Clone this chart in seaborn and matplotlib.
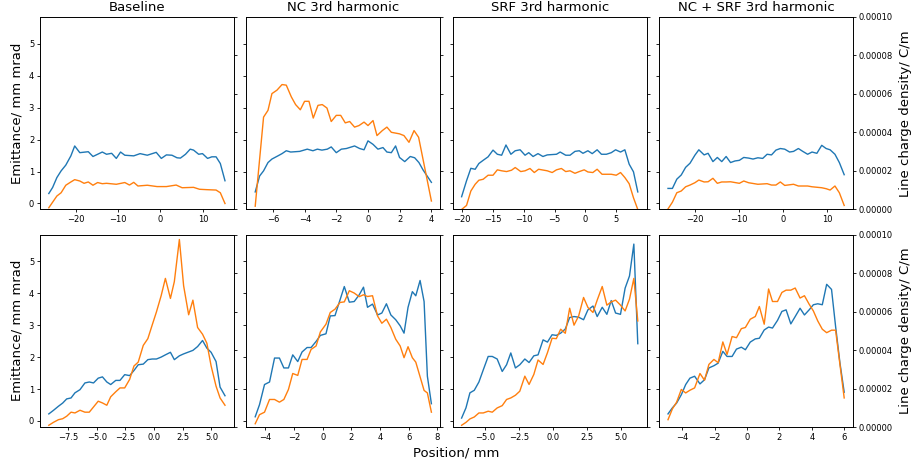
import matplotlib
matplotlib.use("Agg")
import matplotlib.pyplot as plt
from matplotlib.ticker import MultipleLocator, FormatStrFormatter
import seaborn as sns

# panel titles (top row); bottom row is the same four set-ups
titles = ["Baseline", "NC 3rd harmonic", "SRF 3rd harmonic", "NC + SRF 3rd harmonic"]

# ---- top row: emittance (mm mrad) and line charge density (1e-5 C/m) ----
base_top_x = [-26.3, -25.4, -24.4, -23.4, -22.3, -21.1, -20.2, -19.0, -17.0, -15.9, -13.7, -12.7, -11.5, -10.4,
              -9.4, -8.4, -6.3, -4.8, -3.1, -1.0, 0.2, 1.4, 2.7, 3.9, 4.7, 5.9, 7.0, 7.8, 9.0, 9.9, 11.1, 12.1,
              13.1, 14.1, 15.2]
base_top_emit = [0.31, 0.5, 0.81, 1.02, 1.2, 1.49, 1.8, 1.59, 1.62, 1.47, 1.61, 1.54, 1.57, 1.41, 1.61, 1.51,
                 1.49, 1.56, 1.51, 1.6, 1.41, 1.52, 1.51, 1.43, 1.42, 1.54, 1.7, 1.67, 1.54, 1.56, 1.41, 1.46,
                 1.46, 1.25, 0.71]
base_top_qx = [-26.3, -25.4, -24.4, -23.4, -22.3, -21.1, -20.2, -19.0, -18.0, -17.0, -15.9, -14.8, -13.7, -12.7,
               -10.4, -8.4, -7.3, -6.3, -5.3, -3.1, -0.8, 1.4, 3.7, 5.1, 7.8, 9.2, 10.9, 13.1, 14.1, 15.2]
base_top_lcd = [0.09, 0.38, 0.7, 0.87, 1.26, 1.43, 1.55, 1.48, 1.36, 1.43, 1.26, 1.4, 1.34, 1.36, 1.31, 1.4,
                1.27, 1.41, 1.22, 1.26, 1.19, 1.19, 1.27, 1.13, 1.15, 1.05, 1.03, 1.01, 0.87, 0.31]

nc_top_x = [-7.15, -6.87, -6.62, -6.34, -6.09, -5.71, -5.45, -5.18, -4.9, -4.33, -3.85, -3.49, -3.21, -2.92,
            -2.58, -2.33, -2.01, -1.69, -1.37, -0.85, -0.53, -0.25, 0.0, 0.32, 0.63, 0.95, 1.2, 1.48, 1.75,
            2.0, 2.33, 2.68, 2.96, 3.23, 3.49, 4.02]
nc_top_emit = [0.36, 0.86, 1.02, 1.28, 1.39, 1.49, 1.56, 1.65, 1.61, 1.63, 1.7, 1.65, 1.7, 1.67, 1.7, 1.77,
               1.59, 1.7, 1.72, 1.8, 1.72, 1.68, 1.96, 1.85, 1.7, 1.75, 1.61, 1.59, 1.8, 1.44, 1.31, 1.47,
               1.43, 1.28, 1.05, 0.66]
nc_top_qx = [-7.15, -6.62, -6.34, -6.09, -5.77, -5.45, -5.18, -4.86, -4.59, -4.29, -4.02, -3.74, -3.47, -3.17,
             -2.9, -2.6, -2.33, -2.01, -1.73, -1.44, -1.16, -0.85, -0.57, -0.25, 0.0, 0.32, 0.57, 0.91, 1.2,
             1.48, 2.0, 2.28, 2.6, 2.92, 3.21, 4.02]
nc_top_lcd = [0.17, 4.8, 5.15, 6.02, 6.2, 6.49, 6.46, 5.85, 5.45, 5.18, 5.62, 5.62, 4.75, 5.41, 5.45, 5.27,
              4.57, 4.89, 4.89, 4.5, 4.57, 4.28, 4.36, 4.54, 4.36, 4.62, 3.84, 4.1, 4.28, 4.01, 3.93, 3.84,
              3.49, 4.1, 3.75, 0.44]

srf_top_x = [-20.1, -19.3, -18.6, -17.9, -17.3, -16.6, -15.8, -15.0, -14.3, -13.6, -12.9, -12.1, -11.4, -10.6,
             -9.8, -9.2, -8.5, -7.7, -6.9, -6.2, -4.7, -4.1, -3.2, -2.5, -1.7, -1.0, -0.4, 0.4, 1.1, 1.9, 2.6,
             3.4, 4.2, 4.9, 5.7, 6.4, 7.1, 7.8, 8.5]
srf_top_emit = [0.21, 0.71, 1.1, 1.07, 1.25, 1.35, 1.46, 1.67, 1.54, 1.51, 1.83, 1.54, 1.65, 1.68, 1.51, 1.59,
                1.47, 1.56, 1.47, 1.52, 1.54, 1.61, 1.51, 1.51, 1.63, 1.65, 1.57, 1.65, 1.56, 1.68, 1.54,
                1.54, 1.59, 1.68, 1.61, 1.68, 1.23, 0.99, 0.36]
srf_top_qx = [-20.1, -19.3, -18.6, -17.9, -17.3, -16.6, -15.8, -15.0, -14.3, -13.6, -12.8, -12.0, -11.4, -10.5,
              -9.8, -9.0, -8.3, -7.6, -6.2, -5.4, -4.7, -3.9, -3.2, -2.5, -1.7, -1.0, -0.2, 0.4, 1.2, 1.9,
              2.7, 4.2, 5.0, 5.7, 6.4, 7.1, 7.8, 8.5]
srf_top_lcd = [0.0, 0.21, 0.96, 1.31, 1.52, 1.57, 1.78, 1.78, 2.06, 2.01, 1.97, 2.04, 2.18, 1.97, 2.01, 2.13,
               1.92, 2.09, 2.01, 1.92, 2.06, 2.13, 1.97, 2.01, 1.88, 1.97, 2.06, 1.95, 1.92, 2.09, 1.83, 1.83,
               1.78, 1.92, 1.66, 1.34, 0.61, 0.0]

both_top_x = [-26.1, -25.1, -24.1, -23.1, -22.1, -21.1, -20.0, -19.1, -17.9, -17.0, -15.9, -14.9, -13.9, -12.9,
              -11.9, -10.9, -9.9, -8.9, -7.8, -6.8, -5.7, -4.6, -3.6, -2.6, -1.6, -0.6, 0.4, 1.5, 2.4, 3.5,
              4.5, 5.6, 6.6, 7.7, 8.8, 9.8, 10.7, 11.8, 12.8, 13.9]
both_top_emit = [0.47, 0.47, 0.76, 0.89, 1.13, 1.26, 1.51, 1.68, 1.52, 1.57, 1.31, 1.44, 1.31, 1.47, 1.28, 1.33,
                 1.35, 1.44, 1.42, 1.39, 1.43, 1.41, 1.54, 1.52, 1.67, 1.72, 1.7, 1.61, 1.63, 1.72, 1.63, 1.54,
                 1.61, 1.57, 1.82, 1.72, 1.68, 1.54, 1.28, 0.9]
both_top_qx = [-26.1, -25.1, -24.1, -23.1, -22.1, -21.1, -20.0, -19.1, -17.9, -17.0, -15.9, -14.9, -13.9, -12.9,
               -11.9, -9.9, -8.9, -7.8, -5.7, -3.6, -2.6, -1.6, -0.6, 0.4, 2.4, 3.5, 5.6, 6.6, 8.8, 9.8, 10.7,
               11.8, 12.8, 13.9]
both_top_lcd = [0.03, 0.38, 0.87, 0.96, 1.18, 1.27, 1.39, 1.53, 1.43, 1.44, 1.62, 1.36, 1.43, 1.43, 1.44, 1.36,
                1.48, 1.39, 1.31, 1.34, 1.27, 1.27, 1.43, 1.25, 1.31, 1.22, 1.22, 1.18, 1.13, 1.08, 1.01, 1.22,
                0.87, 0.21]

# ---- bottom row ----
base_bot_x = [-9.19, -8.79, -8.35, -7.98, -7.63, -7.25, -6.91, -6.47, -6.04, -5.66, -5.29, -4.88, -4.51, -4.13,
              -3.79, -3.35, -2.98, -2.57, -2.14, -1.76, -1.39, -0.95, -0.55, -0.17, 0.2, 0.61, 0.98, 1.42, 1.76,
              2.2, 2.57, 3.01, 3.38, 3.79, 4.22, 4.6, 4.97, 5.4, 5.75, 6.18]
base_bot_emit = [0.22, 0.33, 0.46, 0.56, 0.69, 0.72, 0.88, 0.98, 1.19, 1.22, 1.19, 1.34, 1.38, 1.22, 1.14, 1.27,
                 1.27, 1.45, 1.42, 1.58, 1.76, 1.78, 1.92, 1.94, 1.94, 2.0, 2.07, 2.15, 1.92, 2.04, 2.1, 2.16,
                 2.21, 2.33, 2.52, 2.28, 2.15, 1.86, 1.06, 0.79]
base_bot_lcd = [0.09, 0.24, 0.38, 0.43, 0.56, 0.77, 0.73, 0.87, 0.77, 0.77, 1.04, 1.34, 1.25, 1.13, 1.57, 1.83,
                2.03, 2.03, 2.47, 3.17, 3.37, 4.24, 4.59, 5.3, 5.98, 6.82, 7.72, 6.68, 7.55, 9.74, 7.34, 5.83,
                6.59, 5.17, 4.82, 4.35, 3.17, 2.12, 1.51, 1.13]

nc_bot_x = [-4.71, -4.41, -4.06, -3.71, -3.36, -3.02, -2.71, -2.39, -2.09, -1.74, -1.44, -1.09, -0.81, -0.46,
            -0.16, 0.23, 0.53, 0.86, 1.21, 1.51, 1.86, 2.2, 2.55, 2.85, 3.13, 3.48, 3.83, 4.13, 4.45, 4.76, 5.1,
            5.41, 5.68, 5.96, 6.26, 6.5, 6.8, 7.08, 7.31, 7.59]
nc_bot_emit = [0.13, 0.51, 1.14, 1.22, 1.97, 1.97, 1.66, 1.66, 2.07, 1.86, 2.16, 2.3, 2.3, 2.49, 2.68, 2.73,
               3.29, 3.3, 3.79, 4.21, 3.72, 3.74, 3.95, 4.19, 3.56, 3.66, 3.32, 3.38, 3.67, 3.32, 3.17, 2.98,
               2.75, 3.56, 4.05, 3.92, 4.4, 3.74, 1.4, 0.54]
nc_bot_lcd = [0.17, 0.64, 0.77, 1.43, 1.43, 1.29, 1.43, 1.95, 2.78, 2.68, 3.51, 3.51, 4.03, 4.21, 4.94, 5.34,
              5.95, 6.12, 6.47, 6.5, 7.08, 6.96, 6.77, 6.87, 6.78, 6.82, 5.77, 5.39, 5.6, 5.17, 4.56, 4.21,
              3.6, 4.17, 3.6, 3.37, 2.61, 1.9, 1.77, 0.77]

srf_bot_x = [-6.71, -6.39, -6.1, -5.78, -5.44, -5.12, -4.76, -4.46, -4.1, -3.73, -3.41, -3.1, -2.76, -2.44,
             -2.07, -1.76, -1.41, -1.1, -0.73, -0.41, -0.07, 0.24, 0.56, 0.9, 1.22, 1.54, 1.88, 2.24, 2.56,
             2.93, 3.24, 3.61, 3.95, 4.27, 4.59, 4.95, 5.29, 5.61, 5.93, 6.22]
srf_bot_emit = [0.09, 0.41, 0.88, 0.96, 1.22, 1.6, 2.02, 2.02, 1.94, 1.55, 1.76, 2.13, 1.66, 1.76, 1.94, 1.83,
                2.04, 2.07, 2.54, 2.47, 2.7, 2.68, 2.75, 2.88, 3.24, 3.27, 3.25, 3.17, 3.48, 3.6, 3.27, 3.56,
                3.34, 3.77, 3.38, 3.34, 4.16, 4.54, 5.54, 2.42]
srf_bot_lcd = [0.09, 0.24, 0.42, 0.52, 0.73, 0.73, 0.82, 0.77, 0.99, 1.11, 1.43, 1.51, 1.65, 1.86, 2.64, 2.21,
               2.73, 3.48, 3.25, 3.86, 4.61, 4.59, 5.08, 4.87, 6.17, 5.29, 5.77, 6.73, 6.21, 5.95, 6.59, 7.3,
               6.33, 6.5, 6.59, 6.33, 6.03, 6.64, 7.72, 5.51]

both_bot_x = [-4.87, -4.6, -4.34, -4.05, -3.78, -3.52, -3.23, -2.9, -2.62, -2.35, -2.04, -1.78, -1.49, -1.23,
              -0.92, -0.65, -0.35, -0.1, 0.2, 0.51, 0.76, 1.06, 1.33, 1.57, 1.88, 2.15, 2.41, 2.7, 2.97, 3.27,
              3.54, 3.83, 4.09, 4.36, 4.64, 4.91, 5.21, 5.46, 5.73, 5.99]
both_bot_emit = [0.22, 0.41, 0.56, 0.82, 1.14, 1.34, 1.4, 1.16, 1.29, 1.66, 1.73, 1.81, 2.18, 2.02, 2.02, 2.25,
                 2.31, 2.23, 2.47, 2.57, 2.59, 2.85, 2.94, 2.91, 3.15, 3.43, 3.48, 3.04, 3.27, 3.53, 3.32, 3.48,
                 3.64, 3.67, 3.64, 4.28, 4.12, 2.96, 1.81, 0.9]
both_bot_qx = [-4.87, -4.6, -4.34, -4.05, -3.78, -3.52, -3.23, -2.9, -2.62, -2.35, -2.04, -1.78, -1.49, -1.23,
               -0.92, -0.65, -0.35, -0.1, 0.2, 0.51, 0.76, 1.06, 1.33, 1.57, 1.88, 2.15, 2.41, 2.7, 2.97, 3.27,
               3.54, 3.83, 4.09, 4.36, 4.64, 4.91, 5.21, 5.46, 5.99]
both_bot_lcd = [0.38, 0.94, 1.29, 1.95, 1.77, 1.91, 2.03, 2.78, 2.43, 3.25, 3.51, 3.34, 4.42, 3.77, 4.7, 4.64,
                5.11, 5.17, 5.6, 5.74, 6.26, 5.34, 7.17, 6.52, 6.52, 6.99, 7.11, 7.11, 7.22, 6.7, 6.82, 6.38,
                6.03, 5.51, 5.08, 4.9, 5.03, 5.03, 1.51]

# (emittance x, emittance, charge x, charge, tick step) for each panel
panels = [
    [(base_top_x, base_top_emit, base_top_qx, base_top_lcd, 10),
     (nc_top_x, nc_top_emit, nc_top_qx, nc_top_lcd, 2),
     (srf_top_x, srf_top_emit, srf_top_qx, srf_top_lcd, 5),
     (both_top_x, both_top_emit, both_top_qx, both_top_lcd, 10)],
    [(base_bot_x, base_bot_emit, base_bot_x, base_bot_lcd, 2.5),
     (nc_bot_x, nc_bot_emit, nc_bot_x, nc_bot_lcd, 2),
     (srf_bot_x, srf_bot_emit, srf_bot_x, srf_bot_lcd, 2.5),
     (both_bot_x, both_bot_emit, both_bot_qx, both_bot_lcd, 2)],
]

plt.rcParams.update({
    'font.family': ['DejaVu Sans'],
    'axes.linewidth': 0.6,
    'xtick.labelsize': 6, 'ytick.labelsize': 6,
    'xtick.major.size': 2.2, 'ytick.major.size': 2.2,
    'xtick.major.width': 0.6, 'ytick.major.width': 0.6,
    'xtick.major.pad': 2, 'ytick.major.pad': 2,
})

fig, axes = plt.subplots(2, 4, figsize=(9.13, 4.65), dpi=100, sharey=True)
fig.subplots_adjust(left=40 / 913, right=853 / 913, top=1 - 17 / 465, bottom=1 - 427 / 465,
                    wspace=0.065, hspace=0.13)

for r in range(2):
    for c in range(4):
        ax = axes[r, c]
        ex, em, qx, lcd, step = panels[r][c]
        sns.lineplot(x=ex, y=em, ax=ax, color='#1f77b4', linewidth=1.0, sort=False, estimator=None)
        tw = ax.twinx()
        sns.lineplot(x=qx, y=[v * 1e-5 for v in lcd], ax=tw, color='#ff7f0e', linewidth=1.0,
                     sort=False, estimator=None)
        ax.set_ylim(-0.19, 5.84)
        ax.set_yticks([0, 1, 2, 3, 4, 5])
        tw.set_ylim(0, 1e-4)
        tw.set_yticks([0, 2e-5, 4e-5, 6e-5, 8e-5, 1e-4])
        tw.yaxis.set_major_formatter(FormatStrFormatter('%.5f'))
        ax.xaxis.set_major_locator(MultipleLocator(step))
        ax.set_xlabel('')
        ax.set_ylabel('')
        tw.set_ylabel('')
        if c == 0:
            ax.set_ylabel('Emittance/ mm mrad', fontsize=9.5, labelpad=4)
        if c == 3:
            tw.set_ylabel('Line charge density/ C/m', fontsize=9.5, labelpad=4)
        else:
            tw.tick_params(labelright=False)
        if r == 0:
            ax.set_title(titles[c], fontsize=9.5, pad=4)

fig.text(0.5, 1 - 453 / 465, 'Position/ mm', ha='center', va='center', fontsize=9.5)

fig.savefig('out.png', dpi=100)
